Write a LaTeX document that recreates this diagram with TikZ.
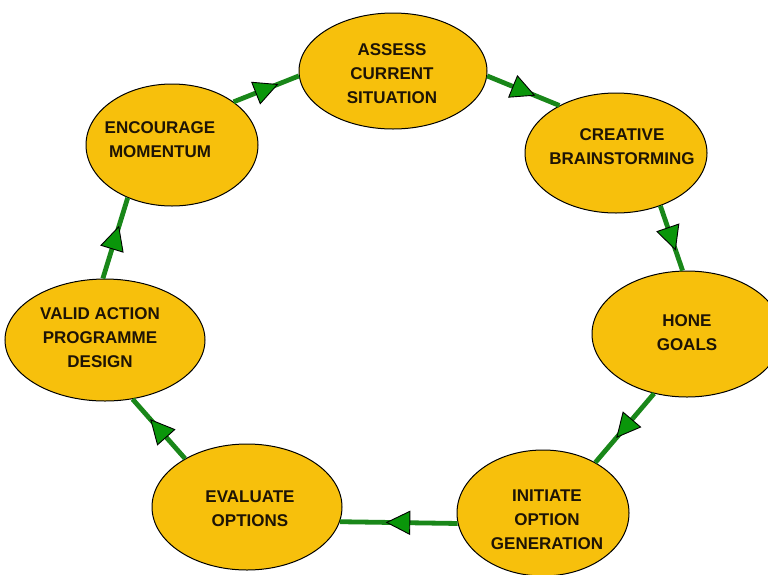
\documentclass[tikz,border=0pt]{standalone}
\usepackage{fontspec}
\setmainfont{Liberation Sans}
\usetikzlibrary{shapes.geometric,decorations.markings}
\definecolor{gold}{RGB}{247,192,12}
\definecolor{linegreen}{RGB}{25,135,25}
\definecolor{tipgreen}{RGB}{10,150,10}
\definecolor{ink}{RGB}{30,20,5}
\tikzset{
  stage/.style={ellipse, draw=black, line width=1pt, fill=gold, inner sep=0pt},
  lbl/.style={align=center, text=ink, font=\bfseries\fontsize{17}{24}\selectfont, inner sep=0pt},
  flow/.style={draw=linegreen, line width=4.8pt, postaction={decorate},
    decoration={markings, mark=at position 0.5 with {
      \path[draw=black, fill=tipgreen, line width=0.9pt, line join=miter]
        (12pt,0pt) -- (-11pt,11.5pt) -- (-11pt,-11.5pt) -- cycle;}}},
}
\begin{document}
\begin{tikzpicture}[x=1pt,y=-1pt]
\path[clip] (0,0) rectangle (768,574);
\fill[white] (0,0) rectangle (768,574);
% stages
\node[stage, minimum width=188pt, minimum height=116pt] (A) at (393,71) {};
\node[stage, minimum width=182pt, minimum height=120pt] (C) at (616,153) {};
\node[stage, minimum width=190pt, minimum height=126pt] (H) at (687,334) {};
\node[stage, minimum width=172pt, minimum height=126pt] (I) at (543,513) {};
\node[stage, minimum width=190pt, minimum height=126pt] (E) at (247,507) {};
\node[stage, minimum width=200pt, minimum height=122pt] (V) at (105,340) {};
\node[stage, minimum width=172pt, minimum height=122pt] (M) at (172,145) {};
% texts
\node[lbl] (tA) at (392,74) {ASSESS\\CURRENT\\SITUATION};
\node[lbl] (tC) at (622,146.5) {CREATIVE\\BRAINSTORMING};
\node[lbl] (tH) at (687,332.5) {HONE\\GOALS};
\node[lbl] (tI) at (547,520) {INITIATE\\OPTION\\GENERATION};
\node[lbl] (tE) at (250,508.5) {EVALUATE\\OPTIONS};
\node[lbl] (tV) at (100,338) {VALID ACTION\\PROGRAMME\\DESIGN};
\node[lbl] (tM) at (160,140) {ENCOURAGE\\MOMENTUM};
% connectors
\draw[flow] (A.-3) -- (C.140);
\draw[flow] (C.-50) -- (H.94);
\draw[flow] (H.-119) -- (I.44);
\draw[flow] (I.187) -- (E.-9.6);
\draw[flow] (E.142.6) -- (V.-65.8);
\draw[flow] (V.92.8) -- (M.-130.8);
\draw[flow] (M.35.9) -- (A.183.6);
\end{tikzpicture}
\end{document}
